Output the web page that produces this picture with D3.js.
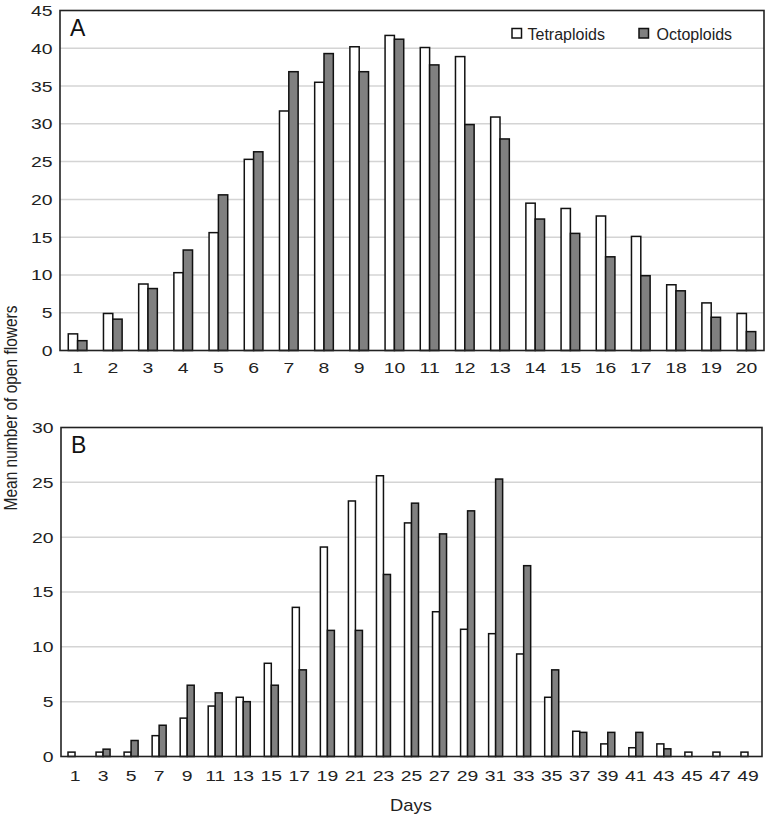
<!DOCTYPE html>
<html>
<head>
<meta charset="utf-8">
<script src="https://cdn.jsdelivr.net/npm/d3@7"></script>
<style>
  html, body { margin: 0; padding: 0; background: #fff; }
  svg { display: block; font-family: "Liberation Sans", Arial, Helvetica, sans-serif; }
</style>
</head>
<body>
<svg id="chart" width="768" height="816"></svg>
<script>
// ---- Data ----
const daysA = d3.range(1, 21).map(String);
const tetraA = [2.2, 4.9, 8.8, 10.3, 15.6, 25.3, 31.7, 35.5, 40.2, 41.7, 40.1, 38.9, 30.9, 19.5, 18.8, 17.8, 15.1, 8.7, 6.3, 4.9];
const octoA  = [1.3, 4.15, 8.2, 13.3, 20.6, 26.3, 36.9, 39.3, 36.9, 41.2, 37.8, 29.9, 28.0, 17.4, 15.5, 12.4, 9.9, 7.9, 4.4, 2.5];
const ticksA = [0, 5, 10, 15, 20, 25, 30, 35, 40, 45];

const daysB = ["1","3","5","7","9","11","13","15","17","19","21","23","25","27","29","31","33","35","37","39","41","43","45","47","49"];
const tetraB = [0.4, 0.4, 0.4, 1.9, 3.5, 4.6, 5.4, 8.5, 13.6, 19.1, 23.3, 25.6, 21.3, 13.2, 11.6, 11.2, 9.35, 5.4, 2.3, 1.15, 0.8, 1.15, 0.4, 0.4, 0.4];
const octoB  = [0, 0.67, 1.46, 2.85, 6.5, 5.8, 5.0, 6.5, 7.9, 11.5, 11.5, 16.6, 23.1, 20.3, 22.4, 25.3, 17.4, 7.9, 2.2, 2.2, 2.2, 0.7, 0, 0, 0];
const ticksB = [0, 5, 10, 15, 20, 25, 30];

const seriesNames = ["Tetraploids", "Octoploids"];
const seriesColors = ["#ffffff", "#808080"];

const svg = d3.select("#chart");
const FONT = "'Liberation Sans', Arial, sans-serif";

function panel(opts) {
  const { left, right, top, bottom, cats, s1, s2, ticks, label, barFrac, xPad } = opts;
  const g = svg.append("g");
  const x = d3.scaleBand().domain(cats).range([left, right]);
  const y = d3.scaleLinear().domain([0, ticks[ticks.length - 1]]).range([bottom, top]);
  const bw = x.bandwidth();
  const barW = bw * barFrac;

  // gridlines
  g.selectAll("line.grid").data(ticks.slice(1, -1)).join("line")
    .attr("x1", left).attr("x2", right)
    .attr("y1", d => y(d)).attr("y2", d => y(d))
    .attr("stroke", "#d4d4d4").attr("stroke-width", 1.5);

  // bars
  const data = cats.map((c, i) => ({ c, a: s1[i], b: s2[i] }));
  g.selectAll("rect.t").data(data.filter(d => d.a > 0)).join("rect")
    .attr("x", d => x(d.c) + bw / 2 - barW)
    .attr("y", d => y(d.a))
    .attr("width", barW)
    .attr("height", d => y(0) - y(d.a))
    .attr("fill", seriesColors[0]).attr("stroke", "#111").attr("stroke-width", 1.5);
  g.selectAll("rect.o").data(data.filter(d => d.b > 0)).join("rect")
    .attr("x", d => x(d.c) + bw / 2)
    .attr("y", d => y(d.b))
    .attr("width", barW)
    .attr("height", d => y(0) - y(d.b))
    .attr("fill", seriesColors[1]).attr("stroke", "#111").attr("stroke-width", 1.5);

  // frame
  g.append("rect").attr("x", left).attr("y", top)
    .attr("width", right - left).attr("height", bottom - top)
    .attr("fill", "none").attr("stroke", "#222").attr("stroke-width", 1.6);

  // y axis labels
  const ya = g.append("g").attr("transform", `translate(${left},0)`)
    .call(d3.axisLeft(y).tickValues(ticks).tickSize(0).tickPadding(6).tickFormat(d3.format("d")));
  ya.select(".domain").remove();
  ya.selectAll("text").attr("font-size", 15.5).attr("fill", "#222")
    .attr("font-family", FONT)
    .attr("transform", "scale(1.25,1)");

  // x axis labels
  const xa = g.append("g").attr("transform", `translate(0,${bottom})`)
    .call(d3.axisBottom(x).tickSize(0).tickPadding(xPad));
  xa.select(".domain").remove();
  xa.selectAll("text").attr("font-size", 15.5).attr("fill", "#222")
    .attr("font-family", FONT)
    .attr("transform", "scale(1.25,1)");

  // panel label
  g.append("text").attr("x", left + 10).attr("y", top + 25)
    .attr("font-size", 23).attr("fill", "#111").text(label);

  return { x, y };
}

panel({ left: 60, right: 764, top: 10.5, bottom: 350.5, cats: daysA, s1: tetraA, s2: octoA, ticks: ticksA, label: "A", barFrac: 0.265, xPad: 11.5 });
panel({ left: 61, right: 762, top: 427.5, bottom: 756.5, cats: daysB, s1: tetraB, s2: octoB, ticks: ticksB, label: "B", barFrac: 0.25, xPad: 14 });

// legend
const legend = svg.append("g");
const legX = [512, 639];
seriesNames.forEach((name, i) => {
  legend.append("rect").attr("x", legX[i]).attr("y", 28.5).attr("width", 9.5).attr("height", 9.5)
    .attr("fill", seriesColors[i]).attr("stroke", "#111").attr("stroke-width", 1.5);
  legend.append("text").attr("x", legX[i] + 15.5 + (i === 1 ? 2 : 0)).attr("y", 40)
    .attr("font-size", 16).attr("fill", "#222").text(name);
});

// axis titles
svg.append("text").attr("transform", "translate(16.5,408) rotate(-90) scale(1,1.2)")
  .attr("text-anchor", "middle").attr("font-size", 15.5).attr("fill", "#222")
  .text("Mean number of open flowers");
svg.append("text").attr("transform", "translate(411,811) scale(1.15,1)")
  .attr("text-anchor", "middle").attr("font-size", 16).attr("fill", "#222")
  .text("Days");
</script>
</body>
</html>
